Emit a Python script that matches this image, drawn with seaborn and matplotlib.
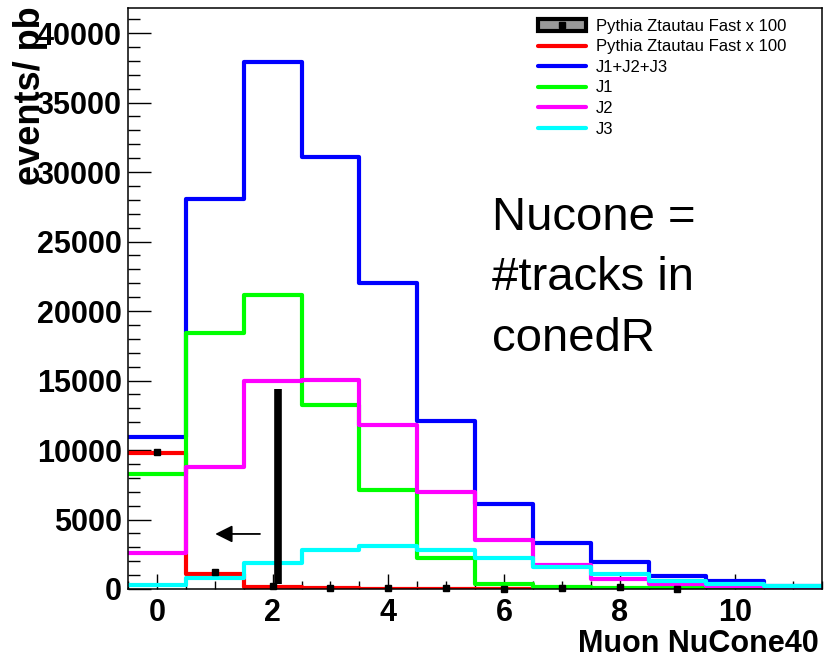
import numpy as np
import pandas as pd
import matplotlib
matplotlib.use("Agg")
import matplotlib.pyplot as plt
import seaborn as sns
from matplotlib.lines import Line2D
from matplotlib.patches import Patch
from matplotlib.ticker import MultipleLocator

# ---------------- data ----------------
nucone_bins = [0, 1, 2, 3, 4, 5, 6, 7, 8, 9, 10, 11]
ztautau_line = [9800, 1080, 150, 40, 30, 30, 20, 10, 0, 0, 0, 0]
j_sum = [10950, 28060, 37910, 31080, 22010, 12090, 6115, 3310, 1940, 930, 575, 250]
j1 = [8290, 18420, 21150, 13240, 7120, 2250, 350, 130, 80, 40, 10, 0]
j2 = [2570, 8780, 14960, 15040, 11800, 7000, 3550, 1720, 750, 350, 180, 60]
j3 = [260, 820, 1880, 2800, 3120, 2800, 2200, 1550, 1050, 580, 390, 230]
point_bins = [0, 1, 2, 3, 4, 5, 6, 7, 8, 9]
ztautau_points = [9850, 1250, 250, 60, 60, 60, 0, 40, 150, 0]
ztautau_errors = [150, 120, 100, 70, 70, 70, 70, 70, 100, 60]
legend_labels = ["Pythia Ztautau Fast x 100", "Pythia Ztautau Fast x 100",
                 "J1+J2+J3", "J1", "J2", "J3"]
x_ticks = [0, 2, 4, 6, 8, 10]
cut_value = 2.1
cut_bar = [350, 14400]
arrow_from, arrow_to, arrow_y = 1.83, 0.96, 3960

# ---------------- style ----------------
sns.set_style("ticks")
plt.rcParams["font.family"] = ["Liberation Sans", "DejaVu Sans"]
plt.rcParams["text.color"] = "black"
plt.rcParams["xtick.color"] = "black"
plt.rcParams["ytick.color"] = "black"
plt.rcParams["axes.labelcolor"] = "black"

fig = plt.figure(figsize=(8.25, 6.59), dpi=100)
ax = fig.add_axes([128 / 825, 1 - 589 / 659, 694 / 825, 581 / 659])

series = [(ztautau_line, "#ff0000"), (j_sum, "#0000ff"), (j1, "#00ff00"),
          (j2, "#ff00ff"), (j3, "#00ffff")]
for vals, col in series:
    df = pd.DataFrame({"nucone": nucone_bins, "w": vals})
    sns.histplot(data=df, x="nucone", weights="w", discrete=True,
                 element="step", fill=False, color=col, linewidth=3.0, ax=ax)

ax.errorbar(point_bins, ztautau_points, yerr=ztautau_errors, fmt="s",
            color="black", ms=5, elinewidth=1.5, capsize=0, zorder=10,
            clip_on=False)

# cut marker and arrow
ax.plot([cut_value, cut_value], cut_bar, color="black", lw=5.5,
        solid_capstyle="butt", zorder=11)
ax.annotate("", xy=(arrow_to, arrow_y), xytext=(arrow_from, arrow_y),
            arrowprops=dict(arrowstyle="-|>", color="black", lw=1.3,
                            mutation_scale=26))

ax.text(5.79, 28270, "Nucone =\n#tracks in\nconedR", fontsize=34,
        ha="left", va="top", linespacing=1.48, color="black")

# axes
ax.set_xlim(-0.5, 11.5)
ax.set_ylim(0, 41800)
ax.set_xticks(x_ticks)
ax.xaxis.set_minor_locator(MultipleLocator(0.5))
ax.yaxis.set_major_locator(MultipleLocator(5000))
ax.yaxis.set_minor_locator(MultipleLocator(1000))
ax.tick_params(axis="both", which="both", direction="in", color="black",
               width=1.0, labelcolor="black")
ax.tick_params(axis="y", which="major", length=16.5, pad=4.5,
               labelsize=22)
ax.tick_params(axis="y", which="minor", length=8.5)
ax.tick_params(axis="x", which="major", length=11, pad=6.5, labelsize=22)
ax.tick_params(axis="x", which="minor", length=5.5)
for lab in ax.get_xticklabels() + ax.get_yticklabels():
    lab.set_fontweight("bold")
for sp in ax.spines.values():
    sp.set_visible(True)
    sp.set_color("black")
    sp.set_linewidth(1.1)

ax.set_xlabel("Muon NuCone40", fontsize=22, fontweight="bold", loc="right",
              labelpad=4, color="black")
ax.xaxis.set_label_coords(0.996, -0.068)
ax.set_ylabel("events/ pb", fontsize=26, fontweight="bold", loc="top",
              color="black")
ax.yaxis.set_label_coords(-0.115, 1.003)

# legend
handles = [
    (Patch(facecolor="#999999", edgecolor="black", linewidth=3),
     Line2D([], [], marker="s", color="black", ls="none", ms=5)),
    Line2D([], [], color="#ff0000", lw=3),
    Line2D([], [], color="#0000ff", lw=3),
    Line2D([], [], color="#00ff00", lw=3),
    Line2D([], [], color="#ff00ff", lw=3),
    Line2D([], [], color="#00ffff", lw=3),
]
leg = ax.legend(handles, legend_labels, loc="upper left",
                bbox_to_anchor=(538 / 825, 1 - 19 / 659),
                bbox_transform=fig.transFigure, frameon=False, fontsize=12,
                handlelength=2.9, handletextpad=0.55, labelspacing=0.33,
                borderpad=0, borderaxespad=0)
for t in leg.get_texts():
    t.set_color("black")

fig.savefig("out.png", dpi=100)
